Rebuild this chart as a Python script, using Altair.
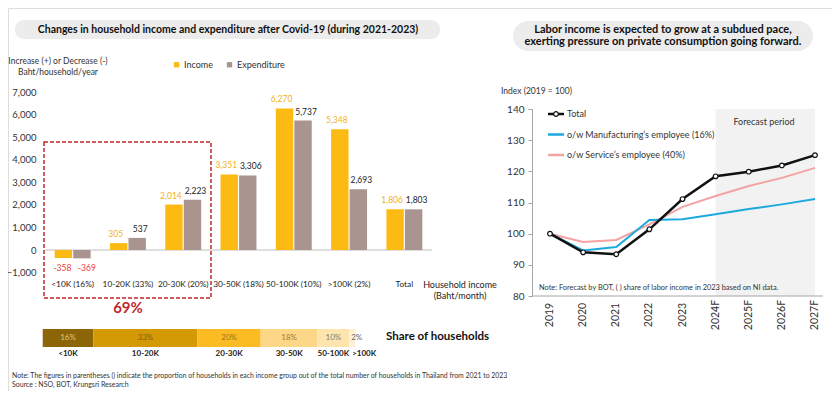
import altair as alt
import pandas as pd

# ---------------- data ----------------
categories = ["<10K (16%)", "10-20K (33%)", "20-30K (20%)", "30-50K (18%)",
              "50-100K (10%)", ">100K (2%)", "Total"]
series_names = ["Income", "Expenditure"]
income = [-358, 305, 2014, 3351, 6270, 5348, 1806]
expenditure = [-369, 537, 2223, 3306, 5737, 2693, 1803]
left_ticks = [-1000, 0, 1000, 2000, 3000, 4000, 5000, 6000, 7000]

share_groups = ["<10K", "10-20K", "20-30K", "30-50K", "50-100K", ">100K"]
share_values = [16, 33, 20, 18, 10, 2]

years = ["2019", "2020", "2021", "2022", "2023", "2024F", "2025F", "2026F", "2027F"]
total_index = [100, 94.0, 93.4, 101.4, 111.1, 118.4, 119.9, 121.9, 125.2]
manufacturing_index = [100, 94.6, 95.7, 104.4, 104.6, 106.2, 107.9, 109.4, 111.1]
service_index = [100, 97.3, 98.0, 103.0, 108.6, 112.1, 115.3, 117.9, 121.1]
line_names = ["Total", "o/w Manufacturing\u2019s employee (16%)", "o/w Service\u2019s employee (40%)"]
right_ticks = [80, 90, 100, 110, 120, 130, 140]

# ---------------- styles ----------------
FONT = "Lato"
W, H = 824, 383
INC, EXP = "#FDBA12", "#A99490"
INC_LAB, NEG_LAB = "#F2B21B", "#E8413C"
RED = "#C0282D"
SHARE_COL = ["#8B6508", "#D49A06", "#FBBB22", "#FDD788", "#FEE5AE", "#FFF1D6"]
SHARE_TXT = ["#E2C67A", "#7E5C08", "#9A7418", "#9A7A3A", "#7a7a7a", "#666666"]
BLACK, MANU, SERV = "#111111", "#1BA9DE", "#F4A3A3"

dummy = pd.DataFrame({"a": [0]})


def txt(text, x, y, size=9, weight="normal", color="#333333", align="left", **kw):
    return alt.Chart(dummy).mark_text(
        text=text, font=FONT, fontSize=size, fontWeight=weight, color=color,
        align=align, baseline="middle", **kw
    ).encode(x=alt.value(x), y=alt.value(y))


def pill(x0, x1, y0, y1, r):
    return alt.Chart(dummy).mark_rect(fill="#ececec", cornerRadius=r).encode(
        x=alt.value(x0), x2=alt.value(x1), y=alt.value(y0), y2=alt.value(y1))


# ---------------- left: bar chart ----------------
df_bar = pd.DataFrame({
    "category": categories * 2,
    "series": ["Income"] * len(categories) + ["Expenditure"] * len(categories),
    "value": income + expenditure,
})
df_bar["label"] = df_bar["value"].map(lambda v: f"{v:,}")

x_bar = alt.Scale(domain=categories, range=[37, 424], paddingInner=0.35, paddingOuter=0.175)
xoff = alt.Scale(domain=series_names, paddingInner=0.06)
y_bar = alt.Scale(domain=[-1000, 7000], range=[264.6, 84], nice=False, zero=False)

enc_x = alt.X("category:N", scale=x_bar, axis=None)
enc_xo = alt.XOffset("series:N", scale=xoff)
enc_y = alt.Y("value:Q", scale=y_bar, axis=None)

zero_rule = alt.Chart(pd.DataFrame({"v": [0]})).mark_rule(color="#bfbfbf", strokeWidth=1).encode(
    y=alt.Y("v:Q", scale=y_bar, axis=None), x=alt.value(37), x2=alt.value(424))

bars = alt.Chart(df_bar).mark_bar().encode(
    x=enc_x, xOffset=enc_xo,
    y=alt.Y("value:Q", scale=y_bar, axis=alt.Axis(
        orient="left", offset=-30, values=left_ticks, format=",.0f", grid=False,
        domain=False, ticks=False, labelPadding=2, labelFont=FONT,
        labelFontSize=9.5, labelColor="#333333", title=None)),
    color=alt.Color("series:N", scale=alt.Scale(domain=series_names, range=[INC, EXP]),
                    legend=alt.Legend(orient="none", legendX=164, legendY=52,
                                      direction="horizontal", title=None,
                                      symbolType="square", symbolSize=28,
                                      symbolStrokeWidth=0, labelFont=FONT,
                                      labelFontSize=9, labelColor="#333333",
                                      columnPadding=12, labelOffset=3)),
)


def bar_labels(cond, color, baseline, dy, dx):
    return alt.Chart(df_bar).transform_filter(cond).mark_text(
        baseline=baseline, dy=dy, dx=dx, color=color, font=FONT, fontSize=8.5).encode(
        x=enc_x, xOffset=enc_xo, y=enc_y, text="label:N")


lab_inc = bar_labels("datum.series == 'Income' && datum.value >= 0", INC_LAB, "bottom", -4, -3)
lab_exp = bar_labels("datum.series == 'Expenditure' && datum.value >= 0", "#222222", "bottom", -4, 3)
lab_neg_inc = bar_labels("datum.series == 'Income' && datum.value < 0", NEG_LAB, "top", 6, -1)
lab_neg_exp = bar_labels("datum.series == 'Expenditure' && datum.value < 0", NEG_LAB, "top", 6, 5)

cat_labels = alt.Chart(pd.DataFrame({"category": categories})).mark_text(
    font=FONT, fontSize=8.3, color="#222222", baseline="middle").encode(
    x=enc_x, y=alt.value(277), text="category:N")

box = alt.Chart(dummy).mark_rect(filled=False, stroke=RED, strokeDash=[4, 2], strokeWidth=1.5).encode(
    x=alt.value(36), x2=alt.value(203), y=alt.value(134), y2=alt.value(290))

# ---------------- left: share of households ----------------
df_share = pd.DataFrame({"group": share_groups, "share": share_values})
df_share["end"] = df_share["share"].cumsum()
df_share["start"] = df_share["end"] - df_share["share"]
df_share["mid"] = (df_share["start"] + df_share["end"]) / 2
df_share["pct"] = df_share["share"].astype(str) + "%"

x_share = alt.Scale(domain=[0, 99], range=[34.7, 347.5], nice=False, zero=False)

share_bar = alt.Chart(df_share).mark_rect().encode(
    x=alt.X("start:Q", scale=x_share, axis=None), x2="end:Q",
    y=alt.value(321), y2=alt.value(339),
    color=alt.Color("group:N", scale=alt.Scale(domain=share_groups, range=SHARE_COL), legend=None))
share_pct = alt.Chart(df_share).transform_filter("datum.group != '>100K'").mark_text(
    font=FONT, fontSize=8, baseline="middle").encode(
    x=alt.X("mid:Q", scale=x_share, axis=None), y=alt.value(330), text="pct:N",
    color=alt.Color("group:N", scale=alt.Scale(domain=share_groups, range=SHARE_TXT), legend=None))
share_pct_last = alt.Chart(df_share).transform_filter("datum.group == '>100K'").mark_text(
    font=FONT, fontSize=8, baseline="middle", align="left", dx=2, color="#666666").encode(
    x=alt.X("start:Q", scale=x_share, axis=None), y=alt.value(330), text="pct:N")
share_lab = alt.Chart(df_share).transform_filter("datum.group != '>100K'").mark_text(
    font=FONT, fontSize=8, fontWeight="bold", baseline="middle", color="#222222").encode(
    x=alt.X("mid:Q", scale=x_share, axis=None), y=alt.value(346), text="group:N")
share_lab_last = alt.Chart(df_share).transform_filter("datum.group == '>100K'").mark_text(
    font=FONT, fontSize=8, fontWeight="bold", baseline="middle", align="left", dx=3,
    color="#222222").encode(
    x=alt.X("start:Q", scale=x_share, axis=None), y=alt.value(346), text="group:N")

# ---------------- right: line chart ----------------
df_line = pd.DataFrame({
    "year": years * 3,
    "series": [line_names[0]] * len(years) + [line_names[1]] * len(years) + [line_names[2]] * len(years),
    "value": total_index + manufacturing_index + service_index,
})
x_line = alt.Scale(type="point", domain=years, range=[542, 807], padding=0)
y_line = alt.Scale(domain=[80, 140], range=[288, 101], nice=False, zero=False)
lx = alt.X("year:N", scale=x_line, axis=None)
ly = alt.Y("value:Q", scale=y_line, axis=None)

df_fc = pd.DataFrame({"x0": ["2024F"], "x1": ["2027F"], "y0": [80], "y1": [140]})
forecast = alt.Chart(df_fc).mark_rect(color="#f2f2f2").encode(
    x=alt.X("x0:N", scale=x_line, axis=None), x2="x1:N",
    y=alt.Y("y0:Q", scale=y_line, axis=None), y2="y1:Q")

line_serv = alt.Chart(df_line).transform_filter(
    alt.datum.series == line_names[2]).mark_line(color=SERV, strokeWidth=2).encode(x=lx, y=ly)
line_manu = alt.Chart(df_line).transform_filter(
    alt.datum.series == line_names[1]).mark_line(color=MANU, strokeWidth=2).encode(x=lx, y=ly)
line_total = alt.Chart(df_line).transform_filter(
    alt.datum.series == line_names[0]).mark_line(color=BLACK, strokeWidth=2.5).encode(
    x=lx,
    y=alt.Y("value:Q", scale=y_line, axis=alt.Axis(
        orient="left", offset=-524, values=right_ticks, grid=False,
        domainColor="#a6a6a6", tickColor="#a6a6a6", tickSize=4, labelPadding=4,
        labelFont=FONT, labelFontSize=10, labelColor="#333333", title=None)))
pts_total = alt.Chart(df_line).transform_filter(
    alt.datum.series == line_names[0]).mark_point(
    filled=True, fill="white", stroke=BLACK, strokeWidth=1.2, size=22, opacity=1).encode(x=lx, y=ly)

x_axis_line = alt.Chart(dummy).mark_rule(color="#a6a6a6", strokeWidth=1).encode(
    x=alt.value(524), x2=alt.value(815), y=alt.value(288))
year_labels = alt.Chart(pd.DataFrame({"year": years})).mark_text(
    font=FONT, fontSize=10.5, angle=270, align="center", baseline="middle", color="#333333").encode(
    x=lx, y=alt.value(307), text="year:N")

df_leg = pd.DataFrame({"series": line_names})
y_leg = alt.Scale(type="point", domain=line_names, range=[106, 147], padding=0)
col_leg = alt.Scale(domain=line_names, range=[BLACK, MANU, SERV])
leg_rule = alt.Chart(df_leg).mark_rule(strokeWidth=2.5).encode(
    y=alt.Y("series:N", scale=y_leg, axis=None), x=alt.value(540), x2=alt.value(556),
    color=alt.Color("series:N", scale=col_leg, legend=None))
leg_pt = alt.Chart(df_leg).transform_filter(alt.datum.series == "Total").mark_point(
    filled=True, fill="white", stroke=BLACK, strokeWidth=1.2, size=22, opacity=1).encode(
    y=alt.Y("series:N", scale=y_leg, axis=None), x=alt.value(548))
leg_text = alt.Chart(df_leg).mark_text(
    font=FONT, fontSize=9, align="left", baseline="middle", color="#333333").encode(
    y=alt.Y("series:N", scale=y_leg, axis=None), x=alt.value(559), text="series:N")

# ---------------- assemble ----------------
layers = [
    pill(7, 432, 12, 31, 9),
    txt("Changes in household income and expenditure after Covid-19 (during 2021-2023)",
        220, 21.5, size=10.5, weight="bold", color="#111111", align="center"),
    txt("Increase (+) or Decrease (-)", 50, 53, size=8.5, align="center"),
    txt("Baht/household/year", 50, 64, size=8.5, align="center"),
    zero_rule, bars, lab_inc, lab_exp, lab_neg_inc, lab_neg_exp, cat_labels,
    txt("Household income", 452, 277, size=9, color="#222222", align="center"),
    txt("(Baht/month)", 452, 288, size=9, color="#222222", align="center"),
    box,
    txt("69%", 120, 300, size=15, weight="bold", color=RED, align="center"),
    share_bar, share_pct, share_pct_last, share_lab, share_lab_last,
    txt("Share of households", 378, 329, size=11.5, weight="bold", color="#111111"),
    txt("Note: The figures in parentheses () indicate the proportion of households in each income group "
        "out of the total number of households in Thailand from 2021 to 2023", 4, 368, size=6.9),
    txt("Source : NSO, BOT, Krungsri Research", 4, 377, size=7),
    pill(505, 805, 13, 43, 15),
    txt("Labor income is expected to grow at a subdued pace,", 655, 22, size=11,
        weight="bold", color="#111111", align="center"),
    txt("exerting pressure on private consumption going forward.", 655, 34, size=11,
        weight="bold", color="#111111", align="center"),
    txt("Index (2019 = 100)", 493, 83, size=8.5),
    forecast,
    txt("Forecast period", 756, 114, size=9, align="center"),
    txt("Note: Forecast by BOT, ( ) share of labor income in 2023 based on NI data.", 531, 280, size=7.4),
    x_axis_line, line_serv, line_manu, line_total, pts_total, year_labels,
    leg_rule, leg_pt, leg_text,
]

chart = alt.layer(*layers).resolve_scale(
    x="independent", y="independent", color="independent"
).properties(
    width=W, height=H, autosize=alt.AutoSizeParams(type="none"), padding=0,
    background="white"
).configure_view(strokeWidth=0).configure(font=FONT)

chart.save("out.html", embed_options={"renderer": "svg", "actions": False})
